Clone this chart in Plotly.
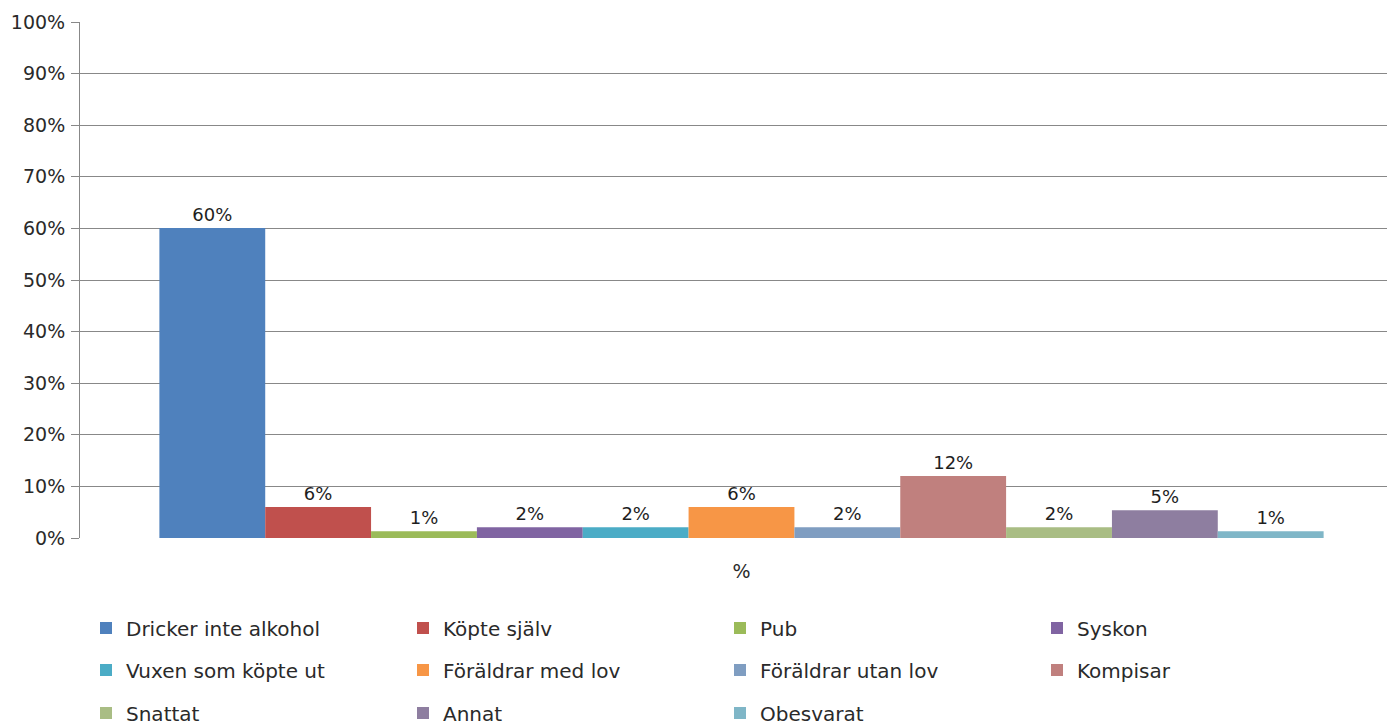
import plotly.graph_objects as go

# Data
categories = ["%"]
series_names = [
    "Dricker inte alkohol", "Köpte själv", "Pub", "Syskon",
    "Vuxen som köpte ut", "Föräldrar med lov", "Föräldrar utan lov", "Kompisar",
    "Snattat", "Annat", "Obesvarat",
]
values = [60.1, 6.0, 1.3, 2.1, 2.1, 6.0, 2.1, 12.0, 2.1, 5.4, 1.3]
tick_vals = [0, 10, 20, 30, 40, 50, 60, 70, 80, 90, 100]
tick_text = [f"{v}%" for v in tick_vals]

colors = ["#4F81BD", "#C0504D", "#9BBB59", "#8064A2", "#4BACC6", "#F79646",
          "#7F9DC1", "#C0807E", "#A9BD84", "#8E7EA0", "#7FB6C7"]

font_name = "DejaVu Sans"
text_col = "#2a2a2a"

fig = go.Figure()
for i, (name, val) in enumerate(zip(series_names, values)):
    leg = ["legend", "legend2", "legend3"][i // 4]
    fig.add_trace(go.Bar(
        x=categories, y=[val], name=name,
        marker=dict(color=colors[i], line=dict(width=0)),
        text=[f"{round(val)}%"], textposition="outside",
        textfont=dict(family=font_name, size=18, color="#1e1e1e"),
        cliponaxis=False,
        legend=leg,
    ))

# page body has an 8px margin, so positions are offset by that
legend_rows_y = [628, 670, 713]
legend_common = dict(
    orientation="h", xref="container", yref="container",
    x=78 / 1395, xanchor="left", yanchor="middle",
    entrywidth=272, entrywidthmode="pixels",
    font=dict(family=font_name, size=20, color=text_col),
    bgcolor="rgba(0,0,0,0)", traceorder="normal",
)

fig.update_layout(
    width=1395, height=724,
    barmode="group", bargap=0.12, bargroupgap=0,
    plot_bgcolor="white", paper_bgcolor="white",
    margin=dict(l=72, r=0, t=14, b=194),
    font=dict(family=font_name, size=18, color=text_col),
    legend=dict(**legend_common, y=1 - (legend_rows_y[0] - 8) / 724),
    legend2=dict(**legend_common, y=1 - (legend_rows_y[1] - 8) / 724),
    legend3=dict(**legend_common, y=1 - (legend_rows_y[2] - 8) / 724),
    xaxis=dict(
        showgrid=False, showline=False, ticks="",
        tickfont=dict(family=font_name, size=19, color=text_col),
        ticklabelstandoff=20,
    ),
    yaxis=dict(
        range=[0, 100], tickvals=tick_vals, ticktext=tick_text,
        showgrid=True, gridcolor="#888888", gridwidth=1,
        showline=True, linecolor="#888888", linewidth=1,
        ticks="outside", ticklen=8, tickcolor="#888888",
        zeroline=False, ticklabelstandoff=2,
        tickfont=dict(family=font_name, size=19, color=text_col),
    ),
)

fig.write_html("out.html")
